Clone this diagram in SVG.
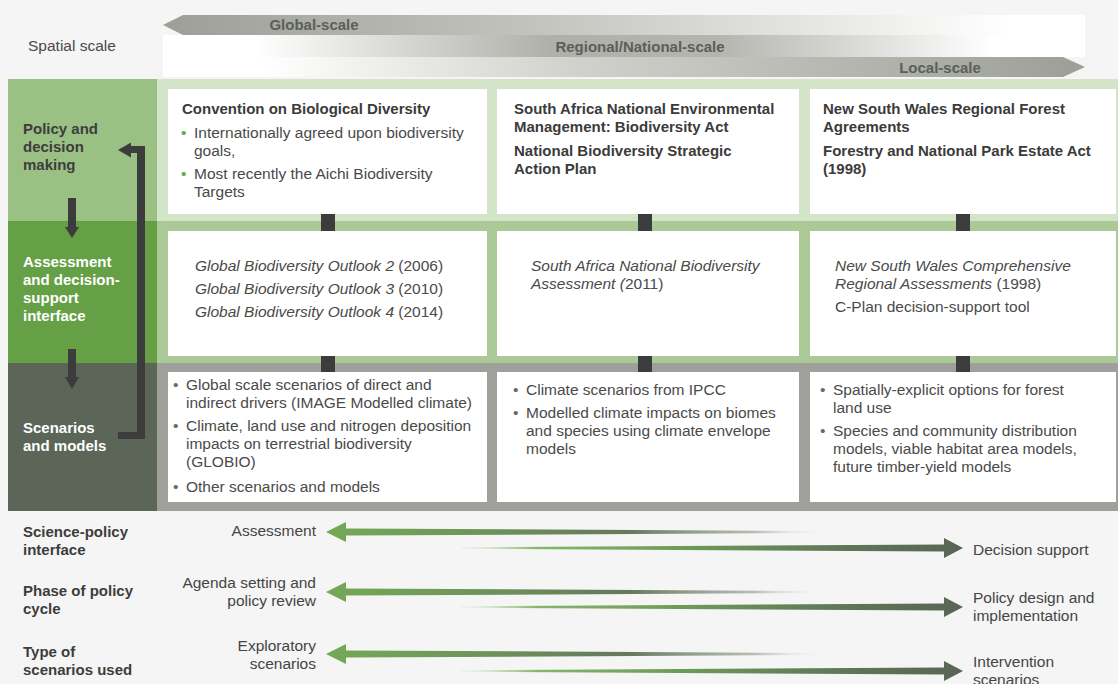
<svg xmlns="http://www.w3.org/2000/svg" width="1118" height="684" viewBox="0 0 1118 684">
<defs>
<style>
text{font-family:"Liberation Sans",Arial,sans-serif;}
.lbl{font-size:15px;font-weight:bold;fill:#3d3d3d;}
.lblw{font-size:15px;font-weight:bold;fill:#ffffff;}
.ttl{font-size:15px;font-weight:bold;fill:#3b3b3b;}
.txt{font-size:15.5px;fill:#4a4a4a;}
.it{font-style:italic;}
.up{font-style:normal;}
.scale{font-size:15px;font-weight:bold;fill:#5a6058;}
.gb{fill:#6aaa46;}
.bul{fill:#6a6a6a;}
.box{fill:#ffffff;}
.sq{fill:#3c3c3c;}
.dk{fill:#3c3c3c;}
.bot{font-size:15.5px;fill:#454545;}
</style>
<linearGradient id="g1" gradientUnits="userSpaceOnUse" x1="163" y1="0" x2="1085" y2="0">
<stop offset="0" stop-color="#9c9e97"/>
<stop offset="0.4" stop-color="#c2c3bd"/>
<stop offset="0.92" stop-color="#ffffff"/>
</linearGradient>
<linearGradient id="g2" gradientUnits="userSpaceOnUse" x1="163" y1="0" x2="1085" y2="0">
<stop offset="0" stop-color="#ffffff"/>
<stop offset="0.1" stop-color="#ffffff"/>
<stop offset="0.42" stop-color="#aeb0a9"/>
<stop offset="0.6" stop-color="#b4b5af"/>
<stop offset="0.9" stop-color="#ffffff"/>
</linearGradient>
<linearGradient id="g3" gradientUnits="userSpaceOnUse" x1="163" y1="0" x2="1085" y2="0">
<stop offset="0" stop-color="#ffffff"/>
<stop offset="0.11" stop-color="#ffffff"/>
<stop offset="0.45" stop-color="#d0d1cc"/>
<stop offset="1" stop-color="#9c9e97"/>
</linearGradient>
<linearGradient id="gl" gradientUnits="userSpaceOnUse" x1="326" y1="0" x2="830" y2="0">
<stop offset="0" stop-color="#74a957"/>
<stop offset="0.3" stop-color="#6e955a"/>
<stop offset="0.6" stop-color="#65785d"/>
<stop offset="0.85" stop-color="#8d9a87" stop-opacity="0.6"/>
<stop offset="1" stop-color="#ffffff" stop-opacity="0"/>
</linearGradient>
<linearGradient id="gr" gradientUnits="userSpaceOnUse" x1="461" y1="0" x2="963" y2="0">
<stop offset="0" stop-color="#cfe3c4" stop-opacity="0.2"/>
<stop offset="0.15" stop-color="#86b66b"/>
<stop offset="0.45" stop-color="#6c9a57"/>
<stop offset="0.75" stop-color="#5f7858"/>
<stop offset="1" stop-color="#596555"/>
</linearGradient>
</defs>

<rect x="0" y="0" width="1118" height="684" fill="#f4f5f4"/>

<g id="spatial-scale">
<text x="28" y="51" class="txt" fill="#454545">Spatial scale</text>
<polygon points="163,25 183,15 1085,15 1085,35 183,35" fill="url(#g1)"/>
<rect x="163" y="35" width="922" height="22" fill="url(#g2)"/>
<polygon points="163,57 1063,57 1085,67 1063,77 163,77" fill="url(#g3)"/>
<text x="314" y="30" class="scale" text-anchor="middle">Global-scale</text>
<text x="640" y="52" class="scale" text-anchor="middle">Regional/National-scale</text>
<text x="940" y="73" class="scale" text-anchor="middle">Local-scale</text>
</g>

<g id="panel-bg">
<rect x="8" y="79" width="149" height="142" fill="#9bc084"/>
<rect x="8" y="221" width="149" height="142" fill="#66a046"/>
<rect x="8" y="363" width="149" height="148" fill="#5b6658"/>
<rect x="157" y="79" width="961" height="142" fill="#d3e4c9"/>
<rect x="157" y="221" width="961" height="142" fill="#aac997"/>
<rect x="157" y="363" width="961" height="148" fill="#9fa09b"/>
</g>

<g id="row-policy">
<text class="lbl"><tspan x="23" y="134">Policy and</tspan><tspan x="23" y="152">decision</tspan><tspan x="23" y="170">making</tspan></text>
</g>
<g id="row-assessment">
<text class="lblw"><tspan x="23" y="267">Assessment</tspan><tspan x="23" y="285">and decision-</tspan><tspan x="23" y="303">support</tspan><tspan x="23" y="321">interface</tspan></text>
</g>
<g id="row-scenarios">
<text class="lblw"><tspan x="23" y="433">Scenarios</tspan><tspan x="23" y="451">and models</tspan></text>
</g>

<g id="box-cbd">
<rect class="box" x="168" y="89" width="319" height="125"/>
<text x="182" y="114" class="ttl">Convention on Biological Diversity</text>
<text x="181" y="138" class="txt gb">•</text>
<text x="194" y="138" class="txt">Internationally agreed upon biodiversity</text>
<text x="194" y="156" class="txt">goals,</text>
<text x="181" y="179" class="txt gb">•</text>
<text x="194" y="179" class="txt">Most recently the Aichi Biodiversity</text>
<text x="194" y="197" class="txt">Targets</text>
</g>
<g id="box-sa-policy">
<rect class="box" x="497" y="89" width="302" height="125"/>
<text class="ttl"><tspan x="514" y="114">South Africa National Environmental</tspan><tspan x="514" y="132">Management: Biodiversity Act</tspan><tspan x="514" y="156">National Biodiversity Strategic</tspan><tspan x="514" y="174">Action Plan</tspan></text>
</g>
<g id="box-nsw-policy">
<rect class="box" x="810" y="89" width="306" height="125"/>
<text class="ttl"><tspan x="823" y="114">New South Wales Regional Forest</tspan><tspan x="823" y="132">Agreements</tspan><tspan x="823" y="156">Forestry and National Park Estate Act</tspan><tspan x="823" y="174">(1998)</tspan></text>
</g>

<g id="box-gbo">
<rect class="box" x="168" y="231" width="319" height="125"/>
<text class="txt it"><tspan x="195" y="271">Global Biodiversity Outlook 2 </tspan><tspan class="up">(2006)</tspan><tspan x="195" y="294">Global Biodiversity Outlook 3 </tspan><tspan class="up">(2010)</tspan><tspan x="195" y="317">Global Biodiversity Outlook 4 </tspan><tspan class="up">(2014)</tspan></text>
</g>
<g id="box-sa-assess">
<rect class="box" x="497" y="231" width="302" height="125"/>
<text class="txt it"><tspan x="531" y="271">South Africa National Biodiversity</tspan><tspan x="531" y="289">Assessment (</tspan><tspan class="up">2011)</tspan></text>
</g>
<g id="box-nsw-assess">
<rect class="box" x="810" y="231" width="306" height="125"/>
<text class="txt"><tspan x="835" y="271" class="it">New South Wales Comprehensive</tspan><tspan x="835" y="289" class="it">Regional Assessments</tspan><tspan> (1998)</tspan><tspan x="835" y="312">C-Plan decision-support tool</tspan></text>
</g>

<g id="box-global-models">
<rect class="box" x="168" y="372" width="319" height="130"/>
<text x="173" y="390" class="txt bul">•</text>
<text class="txt"><tspan x="186" y="390">Global scale scenarios of direct and</tspan><tspan x="186" y="408">indirect drivers (IMAGE Modelled climate)</tspan></text>
<text x="173" y="431" class="txt bul">•</text>
<text class="txt"><tspan x="186" y="431">Climate, land use and nitrogen deposition</tspan><tspan x="186" y="449">impacts on terrestrial biodiversity</tspan><tspan x="186" y="467">(GLOBIO)</tspan></text>
<text x="173" y="492" class="txt bul">•</text>
<text x="186" y="492" class="txt">Other scenarios and models</text>
</g>
<g id="box-sa-models">
<rect class="box" x="497" y="372" width="302" height="130"/>
<text x="513" y="395" class="txt bul">•</text>
<text x="526" y="395" class="txt">Climate scenarios from IPCC</text>
<text x="513" y="418" class="txt bul">•</text>
<text class="txt"><tspan x="526" y="418">Modelled climate impacts on biomes</tspan><tspan x="526" y="436">and species using climate envelope</tspan><tspan x="526" y="454">models</tspan></text>
</g>
<g id="box-nsw-models">
<rect class="box" x="810" y="372" width="306" height="130"/>
<text x="820" y="395" class="txt bul">•</text>
<text class="txt"><tspan x="833" y="395">Spatially-explicit options for forest</tspan><tspan x="833" y="413">land use</tspan></text>
<text x="820" y="436" class="txt bul">•</text>
<text class="txt"><tspan x="833" y="436">Species and community distribution</tspan><tspan x="833" y="454">models, viable habitat area models,</tspan><tspan x="833" y="472">future timber-yield models</tspan></text>
</g>

<g id="connectors">
<rect class="sq" x="321" y="214" width="14" height="17"/>
<rect class="sq" x="638" y="214" width="14" height="17"/>
<rect class="sq" x="956" y="214" width="14" height="17"/>
<rect class="sq" x="321" y="356" width="14" height="16"/>
<rect class="sq" x="638" y="356" width="14" height="16"/>
<rect class="sq" x="956" y="356" width="14" height="16"/>
<polygon class="dk" points="68,198 76,198 76,227 79,227 72,238 65,227 68,227"/>
<polygon class="dk" points="68,349 76,349 76,377 79,377 72,389 65,377 68,377"/>
<polygon class="dk" points="118,150 131,142.5 131,146 145,146 145,439 118,439 118,432 137,432 137,153 131,153 131,157.5"/>
</g>

<g id="bottom-labels">
<text class="lbl"><tspan x="23" y="537">Science-policy</tspan><tspan x="23" y="555">interface</tspan></text>
<text class="lbl"><tspan x="23" y="596">Phase of policy</tspan><tspan x="23" y="614">cycle</tspan></text>
<text class="lbl"><tspan x="23" y="657">Type of</tspan><tspan x="23" y="675">scenarios used</tspan></text>
<text class="bot" text-anchor="end"><tspan x="316" y="536">Assessment</tspan></text>
<text class="bot" text-anchor="end"><tspan x="316" y="588">Agenda setting and</tspan><tspan x="316" y="606">policy review</tspan></text>
<text class="bot" text-anchor="end"><tspan x="316" y="651">Exploratory</tspan><tspan x="316" y="669">scenarios</tspan></text>
<text class="bot"><tspan x="973" y="555">Decision support</tspan></text>
<text class="bot"><tspan x="973" y="603">Policy design and</tspan><tspan x="973" y="621">implementation</tspan></text>
<text class="bot"><tspan x="973" y="667">Intervention</tspan><tspan x="973" y="685">scenarios</tspan></text>
</g>

<g id="bottom-arrows">
<polygon fill="url(#gl)" points="326,532 346,522 346,528.5 830,531 830,533 346,535.5 346,542"/>
<polygon fill="url(#gr)" points="461,547.2 944,544.5 944,538 963,548 944,558 944,551.5 461,548.8"/>
<polygon fill="url(#gl)" points="326,592 346,582 346,588.5 830,591 830,593 346,595.5 346,602"/>
<polygon fill="url(#gr)" points="461,606.2 944,603.5 944,597 963,607 944,617 944,610.5 461,607.8"/>
<polygon fill="url(#gl)" points="326,654 346,644 346,650.5 830,653 830,655 346,657.5 346,664"/>
<polygon fill="url(#gr)" points="461,670.2 944,667.5 944,661 963,671 944,681 944,674.5 461,671.8"/>
</g>
</svg>
